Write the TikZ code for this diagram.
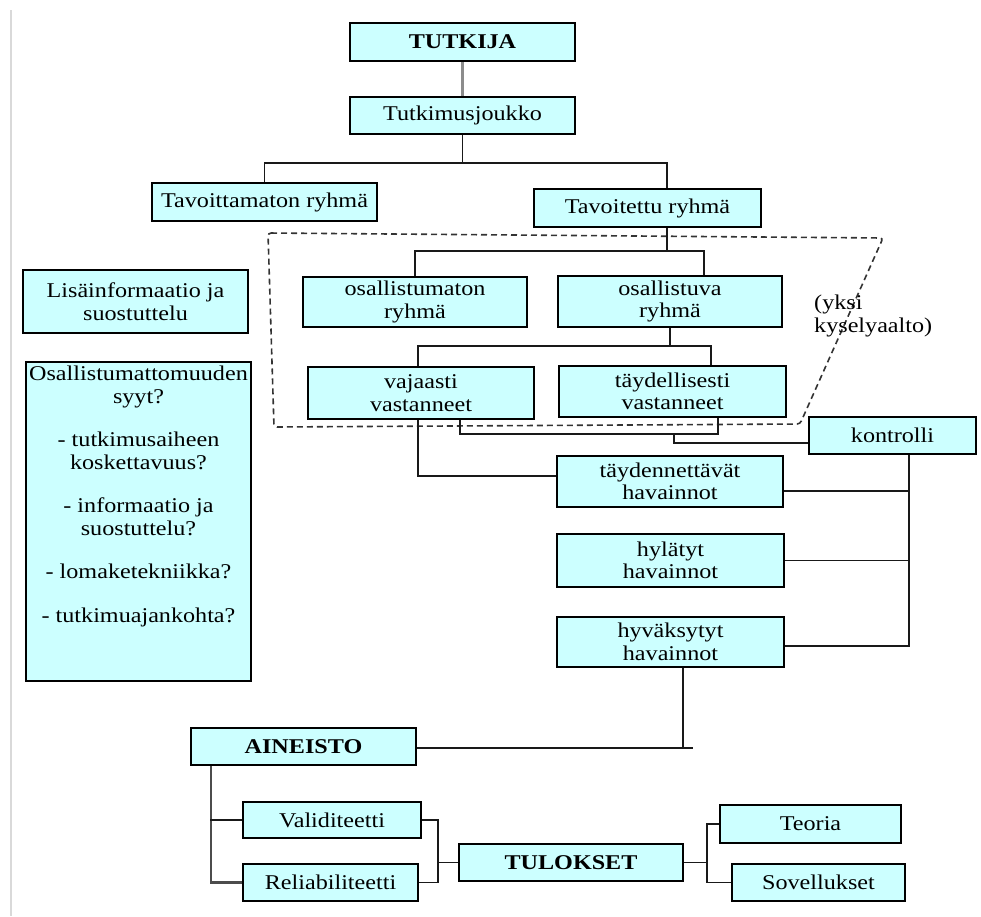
\documentclass[tikz,border=0pt]{standalone}
\usepackage{fontspec}
\setmainfont{Liberation Serif}[FakeStretch=1.15]
\definecolor{laatikkovari}{HTML}{CCFFFF}
\begin{document}
\begin{tikzpicture}[x=1pt,y=-1pt,
  laatikko/.style={draw=black,line width=2.2pt,fill=laatikkovari,align=center,inner sep=0pt,
    font=\fontsize{21}{22.5}\selectfont},
  viiva/.style={line width=1.9pt,black!90}]
  \useasboundingbox (0,0) rectangle (981,916);
  \draw[black!15,line width=2pt] (11,10) -- (11,916);
  \draw[dash pattern=on 6pt off 4pt,line width=1.6pt,black!80,rounded corners=3pt]
    (268,233) -- (883,238) -- (800,424) -- (274,427) -- cycle;

  \node[laatikko,minimum width=225pt,minimum height=38pt] (tutkija) at (462.5,42) {\bfseries TUTKIJA};
  \node[laatikko,minimum width=225pt,minimum height=37pt] (tutkimus) at (462.5,115.5) {Tutkimusjoukko};
  \node[laatikko,minimum width=225pt,minimum height=38pt] (tavoittamaton) at (264.5,202) {Tavoittamaton ryhmä};
  \node[laatikko,minimum width=227pt,minimum height=38pt] (tavoitettu) at (647.5,208) {Tavoitettu ryhmä};
  \node[laatikko,minimum width=225pt,minimum height=63pt] (lisainfo) at (135.5,301.5) {Lisäinformaatio ja\\suostuttelu};
  \node[laatikko,minimum width=225pt,minimum height=319pt] (syyt) at (138.5,521.5) {};
  \node[align=center,inner sep=0pt,anchor=north,font=\fontsize{21}{22.5}\selectfont] (syytteksti) at (138.5,366)
    {Osallistumattomuuden\\syyt?\\[21pt]- tutkimusaiheen\\koskettavuus?\\[21pt]- informaatio ja\\suostuttelu?\\[21pt]- lomaketekniikka?\\[21pt]- tutkimuajankohta?};
  \node[laatikko,minimum width=224pt,minimum height=50pt] (osallistumaton) at (415,302) {osallistumaton\\ryhmä};
  \node[laatikko,minimum width=224pt,minimum height=51pt] (osallistuva) at (670,301.5) {osallistuva\\ryhmä};
  \node[laatikko,minimum width=226pt,minimum height=52pt] (vajaasti) at (421,393) {vajaasti\\vastanneet};
  \node[laatikko,minimum width=227pt,minimum height=51pt] (taydellisesti) at (672.5,391.5) {täydellisesti\\vastanneet};
  \node[align=left,anchor=west,inner sep=0pt,font=\fontsize{21}{22.5}\selectfont] (aalto) at (814,316) {(yksi\\kyselyaalto)};
  \node[laatikko,minimum width=167pt,minimum height=37pt] (kontrolli) at (892.5,435.5) {kontrolli};
  \node[laatikko,minimum width=226pt,minimum height=51pt] (taydennettavat) at (670,481.5) {täydennettävät\\havainnot};
  \node[laatikko,minimum width=227pt,minimum height=53pt] (hylatyt) at (670.5,560.5) {hylätyt\\havainnot};
  \node[laatikko,minimum width=227pt,minimum height=50pt] (hyvaksytyt) at (670.5,642) {hyväksytyt\\havainnot};
  \node[laatikko,minimum width=225pt,minimum height=37pt] (aineisto) at (303.5,746.5) {\bfseries AINEISTO};
  \node[laatikko,minimum width=178pt,minimum height=36pt] (validiteetti) at (332,820) {Validiteetti};
  \node[laatikko,minimum width=175pt,minimum height=37pt] (reliabiliteetti) at (330.5,882.5) {Reliabiliteetti};
  \node[laatikko,minimum width=224pt,minimum height=37pt] (tulokset) at (571,862.5) {\bfseries TULOKSET};
  \node[laatikko,minimum width=181pt,minimum height=38pt] (teoria) at (810.5,824) {Teoria};
  \node[laatikko,minimum width=173pt,minimum height=37pt] (sovellukset) at (818.5,882.5) {Sovellukset};

  \coordinate (haara1) at (462.5,163);
  \coordinate (haara2) at (667,251);
  \coordinate (haara3) at (670,346);
  \coordinate (kokoaja) at (674,434);
  \coordinate (tulosliitos) at (438,862.5);
  \coordinate (sovellusliitos) at (707,862.5);

  \draw[black!45,line width=2.8pt] (tutkija) -- (tutkimus);
  \draw[viiva] (tutkimus) -- (haara1);
  \draw[viiva] (tavoittamaton.north) |- (haara1) -| ([xshift=19.5pt]tavoitettu.north);
  \draw[viiva] ([xshift=19.5pt]tavoitettu.south) -- (haara2);
  \draw[viiva] (osallistumaton.north) |- (haara2) -| ([xshift=34pt]osallistuva.north);
  \draw[viiva] (osallistuva) -- (haara3);
  \draw[viiva] ([xshift=-3pt]vajaasti.north) |- (haara3) -| ([xshift=38.5pt]taydellisesti.north);
  \draw[viiva] ([xshift=39pt]vajaasti.south) |- (kokoaja) -| ([xshift=45.5pt]taydellisesti.south);
  \draw[viiva] (kokoaja) |- ([yshift=-7.5pt]kontrolli.west);
  \draw[viiva] ([xshift=-3pt]vajaasti.south) |- ([yshift=5.5pt]taydennettavat.west);
  \draw[viiva] ([xshift=16.5pt]kontrolli.south) |- ([yshift=-4pt]hyvaksytyt.east);
  \draw[viiva] ([yshift=-9.5pt]taydennettavat.east) -- ++(126,0);
  \draw[viiva] (hylatyt.east) -- ++(125,0);
  \draw[viiva] ([xshift=12.5pt]hyvaksytyt.south) -- ++(0,81);
  \draw[viiva] ([yshift=-1.5pt]aineisto.east) -- ++(276,0);
  \draw[black!70,line width=2.2pt] ([xshift=-92.5pt]aineisto.south) |- (reliabiliteetti.west);
  \draw[viiva] (validiteetti.west) -- ++(-32,0);
  \draw[viiva] (validiteetti.east) -| (tulosliitos) |- (reliabiliteetti.east);
  \draw[viiva] (tulosliitos) -- (tulokset.west);
  \draw[viiva] (tulokset.east) -- (sovellusliitos);
  \draw[viiva] (teoria.west) -| (sovellusliitos) |- (sovellukset.west);
\end{tikzpicture}
\end{document}
